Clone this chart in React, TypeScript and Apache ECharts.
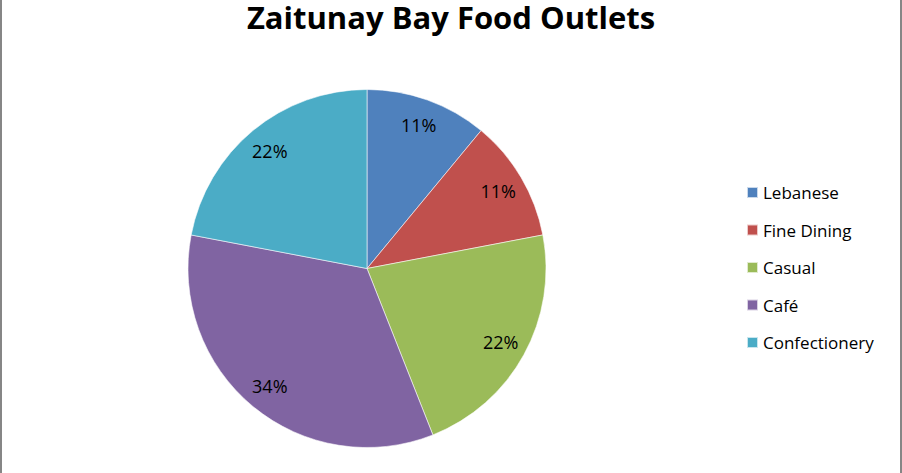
import React, { useEffect, useRef } from "react";
import * as echarts from "echarts";

const titleText = "Zaitunay Bay Food Outlets";
const categories = ["Lebanese", "Fine Dining", "Casual", "Café", "Confectionery"];
const shares = [11, 11, 22, 34, 22];
const colors = ["#4F81BD", "#C0504D", "#9BBB59", "#8064A2", "#4BACC6"];

export default function App() {
  const ref = useRef<HTMLDivElement>(null);
  useEffect(() => {
    document.body.style.margin = "0";
    const chart = echarts.init(ref.current!, undefined, { renderer: "svg" });
    const data = categories.map((name, i) => ({
      name,
      value: shares[i],
      itemStyle: { color: colors[i] },
    }));
    chart.setOption({
      animation: false,
      backgroundColor: "#ffffff",
      title: {
        text: titleText,
        left: "center",
        top: 0,
        padding: 0,
        textStyle: {
          fontFamily: "Open Sans",
          fontWeight: "bold",
          fontSize: 31,
          lineHeight: 34,
          color: "#000000",
        },
      },
      legend: {
        orient: "vertical",
        left: 741,
        top: 179,
        itemWidth: 11,
        itemHeight: 11,
        itemGap: 20.5,
        itemTextGap: 7,
        icon: "rect",
        data: categories,
        textStyle: {
          fontFamily: "Open Sans",
          fontSize: 17,
          lineHeight: 17,
          color: "#000000",
        },
      },
      graphic: [
        { type: "rect", left: 0, top: 0, shape: { width: 2, height: 473 }, style: { fill: "#868686" } },
        { type: "rect", left: 900, top: 0, shape: { width: 2, height: 473 }, style: { fill: "#868686" } },
      ],
      series: [
        {
          type: "pie",
          center: [367, 268.5],
          radius: 179,
          startAngle: 90,
          clockwise: true,
          data,
          label: { show: false },
          labelLine: { show: false },
          itemStyle: { borderColor: "rgba(255,255,255,0.7)", borderWidth: 0.8 },
          emphasis: { disabled: true },
        },
        {
          type: "pie",
          center: [367, 268.5],
          radius: [120, 179],
          startAngle: 90,
          clockwise: true,
          silent: true,
          legendHoverLink: false,
          data: data.map((d) => ({ name: d.name, value: d.value, itemStyle: { color: "rgba(0,0,0,0)" } })),
          itemStyle: { borderWidth: 0 },
          label: {
            show: true,
            position: "inside",
            formatter: "{c}%",
            fontFamily: "Open Sans",
            fontSize: 18,
            color: "#000000",
          },
          labelLine: { show: false },
          emphasis: { disabled: true },
        },
      ],
    });
    return () => chart.dispose();
  }, []);
  return <div ref={ref} style={{ width: 902, height: 473 }} />;
}
